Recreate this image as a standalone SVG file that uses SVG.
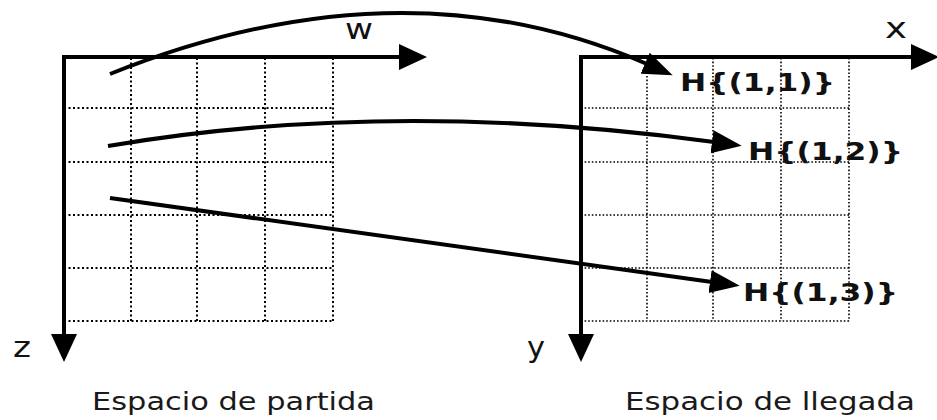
<svg xmlns="http://www.w3.org/2000/svg" width="937" height="420" viewBox="0 0 937 420">
<style>
.bg{fill:#fff}
.gridL{stroke:#000;stroke-width:2;stroke-dasharray:2 2.5;fill:none}
.gridR{stroke:#000;stroke-width:1.6;stroke-dasharray:1.6 2;fill:none}
.axis{stroke:#000;stroke-width:4;fill:none;marker-end:url(#axhead)}
.conn{stroke:#000;stroke-width:4;fill:none;marker-end:url(#head)}
.ax{font-family:"DejaVu Sans","Verdana",sans-serif;font-size:29px;fill:#111}
.cap{font-family:"DejaVu Sans","Verdana",sans-serif;font-size:25px;fill:#1a1a1a}
.h{font-family:"DejaVu Sans","Verdana",sans-serif;font-size:25px;font-weight:bold;fill:#111}
</style>
<defs>
<marker id="axhead" markerUnits="userSpaceOnUse" viewBox="0 -14 28 28" markerWidth="28" markerHeight="28" refX="2" refY="0" orient="auto">
<path d="M0,-13 L28,0 L0,13 z" fill="#000"/>
</marker>
<marker id="head" markerUnits="userSpaceOnUse" viewBox="0 -12 30 24" markerWidth="30" markerHeight="24" refX="2" refY="0" orient="auto">
<path d="M0,-11.5 L30,0 L0,11.5 z" fill="#000"/>
</marker>
</defs>
<rect class="bg" x="0" y="0" width="937" height="420"/>

<g id="espacio-partida">
<path class="gridL" d="M64,108H333M64,162H333M64,215H333M64,268H333M64,321H333M131,58V321M197,58V321M265,58V321M333,58V321"/>
<path class="axis" d="M64,55V336"/>
<path class="axis" d="M62,57H401"/>
<text class="ax" x="345" y="39" textLength="28" lengthAdjust="spacingAndGlyphs">w</text>
<text class="ax" x="13" y="357" textLength="18" lengthAdjust="spacingAndGlyphs">z</text>
<text class="cap" x="92" y="410" textLength="283" lengthAdjust="spacingAndGlyphs">Espacio de partida</text>
</g>

<g id="espacio-llegada">
<path class="gridR" d="M581,108H849M581,162H849M581,215H849M581,268H849M581,321H849M647,58V321M713,58V321M781,58V321M849,58V321"/>
<path class="axis" d="M581,55V336"/>
<path class="axis" d="M579,57H913"/>
<text class="ax" x="885" y="38" textLength="22" lengthAdjust="spacingAndGlyphs">x</text>
<text class="ax" x="527" y="357" textLength="18" lengthAdjust="spacingAndGlyphs">y</text>
<text class="cap" x="625" y="410" textLength="290" lengthAdjust="spacingAndGlyphs">Espacio de llegada</text>
</g>

<g id="h11"><text class="h" x="680" y="91" textLength="155" lengthAdjust="spacingAndGlyphs">H{(1,1)}</text></g>
<g id="h12"><text class="h" x="748" y="160" textLength="155" lengthAdjust="spacingAndGlyphs">H{(1,2)}</text></g>
<g id="h13"><text class="h" x="743" y="301" textLength="155" lengthAdjust="spacingAndGlyphs">H{(1,3)}</text></g>

<g id="connectors">
<path class="conn" d="M110,74 Q401,-43 647,64"/>
<path class="conn" d="M108,146 Q390,98 714,142"/>
<path class="conn" d="M110,198 L712,282"/>
</g>
</svg>
